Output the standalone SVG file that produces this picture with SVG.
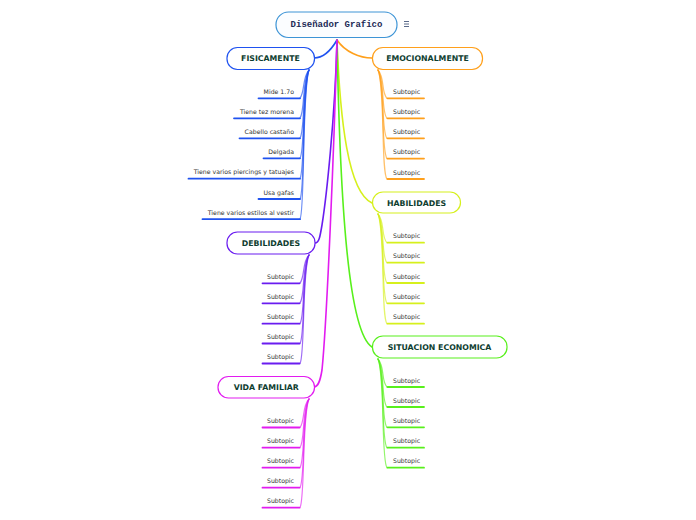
<svg xmlns="http://www.w3.org/2000/svg" width="696" height="520" viewBox="0 0 696 520">
<style>
.node{fill:#ffffff;stroke-width:1.2}
.nt{font-family:"DejaVu Sans",Verdana,sans-serif;font-weight:bold;font-size:7.8px;fill:#0e3d2f;text-anchor:middle}
.st{font-family:"DejaVu Sans",Verdana,sans-serif;font-size:6.2px;fill:#333333}
.l{text-anchor:end}
.c{fill:none;stroke-linecap:round}
.sub{stroke-width:1.2;stroke-opacity:0.65}
.u{stroke-width:1.8}
.blue{stroke:#1f52f0}.orange{stroke:#ffa01c}.yellow{stroke:#d6f01c}.green{stroke:#58f01c}.purple{stroke:#6a1cf0}.magenta{stroke:#e21cf0}
</style>
<rect width="696" height="520" fill="#ffffff"/>
<g id="connectors">
<g class="c" stroke-width="1.6">
<path class="blue" d="M337,40 C330,52 322,58 314,58"/>
<path class="orange" d="M337,40 C345,52 360,58 372,58"/>
<path class="yellow" d="M337,40 C340,120 348,192 372,203"/>
<path class="green" d="M337,40 C340,200 348,332 372,347"/>
<path class="purple" d="M337,40 C335,120 326,200 322,225 C320,237 319,243 315,243"/>
<path class="magenta" d="M337,40 C334,150 327,320 322,370 C320,382 318,387 314,387"/>
</g>
<g class="c sub blue">
<path d="M309,70 C302,78 305,92 300,98"/>
<path d="M309,70 C302,80 305,112 300,118"/>
<path d="M309,70 C302,82 305,132 300,138"/>
<path d="M309,70 C302,84 305,152 300,158"/>
<path d="M309,70 C302,86 305,172 300,178.5"/>
<path d="M309,70 C302,88 305,193 300,199"/>
<path d="M309,70 C302,90 305,213 300,219"/>
</g>
<g class="c sub purple">
<path d="M309,255 C302,262 305,277 300,283"/>
<path d="M309,255 C302,264 305,297 300,303"/>
<path d="M309,255 C302,266 305,317 300,323.5"/>
<path d="M309,255 C302,268 305,337 300,343.5"/>
<path d="M309,255 C302,270 305,357 300,363.5"/>
</g>
<g class="c sub magenta">
<path d="M309,399 C302,406 305,421 300,427.5"/>
<path d="M309,399 C302,408 305,441 300,447.5"/>
<path d="M309,399 C302,410 305,461 300,467.5"/>
<path d="M309,399 C302,412 305,481 300,487.5"/>
<path d="M309,399 C302,414 305,501 300,507.5"/>
</g>
<g class="c sub orange">
<path d="M378,70 C385,78 381,92 387,98.3"/>
<path d="M378,70 C385,80 381,112 387,118.3"/>
<path d="M378,70 C385,82 381,132 387,138.3"/>
<path d="M378,70 C385,84 381,152 387,158.5"/>
<path d="M378,70 C385,86 381,173 387,179"/>
</g>
<g class="c sub yellow">
<path d="M378,214 C385,222 381,237 387,242.7"/>
<path d="M378,214 C385,224 381,257 387,262.7"/>
<path d="M378,214 C385,226 381,277 387,283"/>
<path d="M378,214 C385,228 381,297 387,303.3"/>
<path d="M378,214 C385,230 381,318 387,323.7"/>
</g>
<g class="c sub green">
<path d="M378,359 C385,367 381,381 387,387"/>
<path d="M378,359 C385,369 381,401 387,407"/>
<path d="M378,359 C385,371 381,421 387,427.3"/>
<path d="M378,359 C385,373 381,441 387,447.7"/>
<path d="M378,359 C385,375 381,461 387,467.7"/>
</g>
</g>
<g id="root">
<rect x="276" y="12" width="121" height="25.5" rx="12.5" fill="#fbfdff" stroke="#3d94d6" stroke-width="1.2"/>
<text x="336.5" y="27" font-family="'Liberation Mono','Courier New',monospace" font-weight="bold" font-size="9px" fill="#1c2a55" text-anchor="middle">Diseñador Grafico</text>
<g stroke="#5a6a8a" stroke-width="1"><line x1="404" y1="21.5" x2="409" y2="21.5"/><line x1="404" y1="24" x2="409" y2="24"/><line x1="404" y1="26.5" x2="409" y2="26.5"/></g>
</g>
<g id="fisicamente">
<rect class="node blue" x="227" y="47.5" width="87.5" height="22" rx="10.5"/>
<text class="nt" x="270.5" y="61.3">FISICAMENTE</text>
<g class="st l">
<text x="294" y="93.8">Mide 1.7o</text>
<text x="294" y="113.8">Tiene tez morena</text>
<text x="294" y="133.8">Cabello castaño</text>
<text x="294" y="153.8">Delgada</text>
<text x="294" y="174">Tiene varios piercings y tatuajes</text>
<text x="294" y="194.5">Usa gafas</text>
<text x="294" y="214.5">Tiene varios estilos al vestir</text>
</g>
<g class="c u blue">
<line x1="258.5" y1="98.3" x2="300" y2="98.3"/>
<line x1="234" y1="118.3" x2="300" y2="118.3"/>
<line x1="239.5" y1="138.3" x2="300" y2="138.3"/>
<line x1="263.5" y1="158.3" x2="300" y2="158.3"/>
<line x1="188.5" y1="178.7" x2="300" y2="178.7"/>
<line x1="258.5" y1="199" x2="300" y2="199"/>
<line x1="202.5" y1="219.2" x2="300" y2="219.2"/>
</g>
</g>
<g id="emocionalmente">
<rect class="node orange" x="372.5" y="47.5" width="110" height="22" rx="10.5"/>
<text class="nt" x="427.5" y="61.3">EMOCIONALMENTE</text>
<g class="st">
<text x="393" y="93.8">Subtopic</text>
<text x="393" y="113.8">Subtopic</text>
<text x="393" y="133.8">Subtopic</text>
<text x="393" y="154">Subtopic</text>
<text x="393" y="174.5">Subtopic</text>
</g>
<g class="c u orange">
<line x1="387.5" y1="98.3" x2="424" y2="98.3"/>
<line x1="387.5" y1="118.3" x2="424" y2="118.3"/>
<line x1="387.5" y1="138.3" x2="424" y2="138.3"/>
<line x1="387.5" y1="158.6" x2="424" y2="158.6"/>
<line x1="387.5" y1="179" x2="424" y2="179"/>
</g>
</g>
<g id="habilidades">
<rect class="node yellow" x="372.5" y="192" width="88" height="21" rx="10.5"/>
<text class="nt" x="416.5" y="205.5">HABILIDADES</text>
<g class="st">
<text x="393" y="238.2">Subtopic</text>
<text x="393" y="258.2">Subtopic</text>
<text x="393" y="278.5">Subtopic</text>
<text x="393" y="298.8">Subtopic</text>
<text x="393" y="319.2">Subtopic</text>
</g>
<g class="c u yellow">
<line x1="387.5" y1="242.7" x2="424" y2="242.7"/>
<line x1="387.5" y1="262.7" x2="424" y2="262.7"/>
<line x1="387.5" y1="283" x2="424" y2="283"/>
<line x1="387.5" y1="303.3" x2="424" y2="303.3"/>
<line x1="387.5" y1="323.7" x2="424" y2="323.7"/>
</g>
</g>
<g id="situacion-economica">
<rect class="node green" x="372.5" y="336" width="134.5" height="22" rx="10.5"/>
<text class="nt" x="439.5" y="350">SITUACION ECONOMICA</text>
<g class="st">
<text x="393" y="382.5">Subtopic</text>
<text x="393" y="402.5">Subtopic</text>
<text x="393" y="422.8">Subtopic</text>
<text x="393" y="443.2">Subtopic</text>
<text x="393" y="463.2">Subtopic</text>
</g>
<g class="c u green">
<line x1="387.5" y1="387" x2="424" y2="387"/>
<line x1="387.5" y1="407" x2="424" y2="407"/>
<line x1="387.5" y1="427.3" x2="424" y2="427.3"/>
<line x1="387.5" y1="447.7" x2="424" y2="447.7"/>
<line x1="387.5" y1="467.7" x2="424" y2="467.7"/>
</g>
</g>
<g id="debilidades">
<rect class="node purple" x="227" y="232" width="88" height="22" rx="10.5"/>
<text class="nt" x="271" y="246">DEBILIDADES</text>
<g class="st l">
<text x="294" y="278.5">Subtopic</text>
<text x="294" y="298.8">Subtopic</text>
<text x="294" y="319.2">Subtopic</text>
<text x="294" y="339">Subtopic</text>
<text x="294" y="359">Subtopic</text>
</g>
<g class="c u purple">
<line x1="262.5" y1="283.3" x2="299.5" y2="283.3"/>
<line x1="262.5" y1="303.3" x2="299.5" y2="303.3"/>
<line x1="262.5" y1="323.7" x2="299.5" y2="323.7"/>
<line x1="262.5" y1="343.5" x2="299.5" y2="343.5"/>
<line x1="262.5" y1="363.5" x2="299.5" y2="363.5"/>
</g>
</g>
<g id="vida-familiar">
<rect class="node magenta" x="218" y="376.5" width="96.5" height="21.5" rx="10.5"/>
<text class="nt" x="266.3" y="390.3">VIDA FAMILIAR</text>
<g class="st l">
<text x="294" y="423">Subtopic</text>
<text x="294" y="443.2">Subtopic</text>
<text x="294" y="463.2">Subtopic</text>
<text x="294" y="483.2">Subtopic</text>
<text x="294" y="503.2">Subtopic</text>
</g>
<g class="c u magenta">
<line x1="262.5" y1="427.5" x2="299.5" y2="427.5"/>
<line x1="262.5" y1="447.7" x2="299.5" y2="447.7"/>
<line x1="262.5" y1="467.7" x2="299.5" y2="467.7"/>
<line x1="262.5" y1="487.7" x2="299.5" y2="487.7"/>
<line x1="262.5" y1="507.7" x2="299.5" y2="507.7"/>
</g>
</g>
</svg>
